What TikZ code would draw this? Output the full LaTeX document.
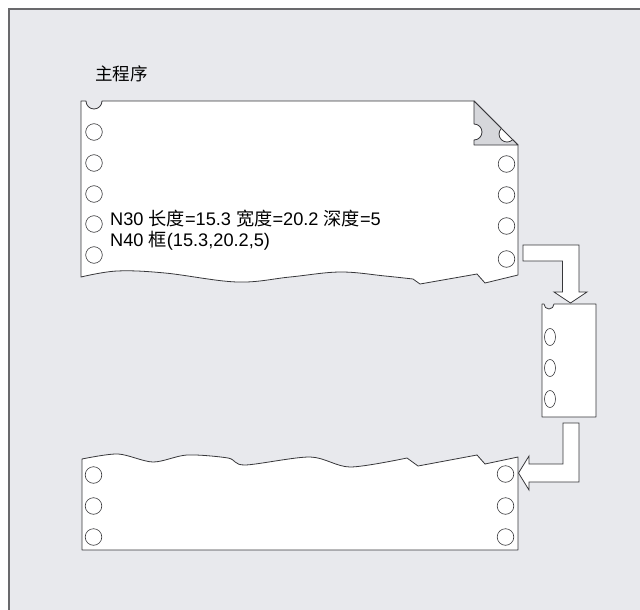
\documentclass[tikz,border=0pt]{standalone}
\usepackage{fontspec}
\setmainfont{Liberation Sans}
\newfontfamily\cjk{Noto Sans CJK SC}
\definecolor{panelgray}{RGB}{232,233,237}
\definecolor{edgegray}{RGB}{55,55,58}
\definecolor{flapgray}{RGB}{214,215,219}
\definecolor{framegray}{RGB}{105,105,108}

\begin{document}
\begin{tikzpicture}[x=1pt,y=-1pt,
  paper/.style={fill=white,draw=edgegray,line width=0.8pt,line join=round},
  hole/.style={draw=edgegray,line width=0.6pt},
  flap/.style={fill=flapgray,draw=edgegray,line width=0.8pt,line join=round},
  blockarrow/.style={fill=white,draw=edgegray,line width=0.8pt},
  listing/.style={anchor=base west,inner sep=0pt,font=\fontsize{18.2}{21}\selectfont}]

  \useasboundingbox (0,0) rectangle (640,610);
  \fill[panelgray] (8,9) rectangle (640,610);
  \draw[framegray,line width=2pt] (8.5,610) -- (8.5,9.5) -- (640,9.5);

  \node[listing,font=\fontsize{17.5}{21}\cjk] (title) at (95,81) {主程序};

  % main program sheet, corner folded back
  \draw[paper] (81,101) -- (86,101) arc (180:360:8pt) -- (474,101) -- (518,145)
    -- (518,275) -- (485,283) -- (477,274) -- (420,284)
    -- plot[smooth,tension=.6] coordinates {(413,279) (385,276) (340,272) (290,277)
      (237,282) (165,273) (117,271) (81,277)} -- cycle;
  \draw[flap] (474,101) -- (474,124) arc (90:-90:8pt) -- (474,145) -- (518,145)
    -- (512.7,139.7) arc (-45:-225:8pt) -- cycle;

  % holes along both margins
  \draw[hole] (94,132) circle[radius=8.3pt] (94,163) circle[radius=8.3pt]
    (94,194) circle[radius=8.3pt] (94,224) circle[radius=8.3pt]
    (94,255) circle[radius=8.3pt];
  \draw[hole] (506.5,164) circle[radius=8.3pt] (506.5,195) circle[radius=8.3pt]
    (506.5,226) circle[radius=8.3pt] (506.5,259) circle[radius=8.3pt];

  \node[listing] (line30) at (110,225) {N30 {\cjk 长度}=15.3 {\cjk 宽度}=20.2 {\cjk 深度}=5};
  \node[listing] (line40) at (110,246.5) {N40 {\cjk 框}(15.3,20.2,5)};

  % subroutine strip
  \draw[paper] (542,304) -- (544,304) arc (180:360:5pt) -- (596,304)
    -- (596,417) -- (542,417) -- cycle;
  \draw[hole] (550,337) circle[x radius=5.5pt,y radius=8.5pt]
    (550,368) circle[x radius=5.5pt,y radius=8.5pt]
    (550,399) circle[x radius=5.5pt,y radius=8.5pt];

  % continuation sheet
  \draw[paper] (82,550) -- (82,459)
    -- plot[smooth,tension=.5] coordinates {(82,459) (118,454) (153,462) (187,455)
      (228,458) (245,465) (310,457) (350,467) (407,458)}
    -- (418,466) -- (477,455) -- (485,464) -- (518,457) -- (518,550) -- cycle;
  \draw[hole] (93.5,475) circle[radius=8.3pt] (93.5,506) circle[radius=8.3pt]
    (93.5,537) circle[radius=8.3pt];
  \draw[hole] (505.5,474) circle[radius=8.3pt] (505.5,506) circle[radius=8.3pt]
    (505.5,537) circle[radius=8.3pt];

  % call and return arrows
  \draw[blockarrow] (523,245) -- (579,245) -- (579,292) -- (587,292) -- (570.5,303)
    -- (554,292) -- (562.5,292) -- (562.5,261) -- (523,261) -- cycle;
  \draw[blockarrow] (563,423) -- (579,423) -- (579,482) -- (529,482) -- (529,490)
    -- (518.5,473) -- (529,456) -- (529,464) -- (563,464) -- cycle;

\end{tikzpicture}
\end{document}
